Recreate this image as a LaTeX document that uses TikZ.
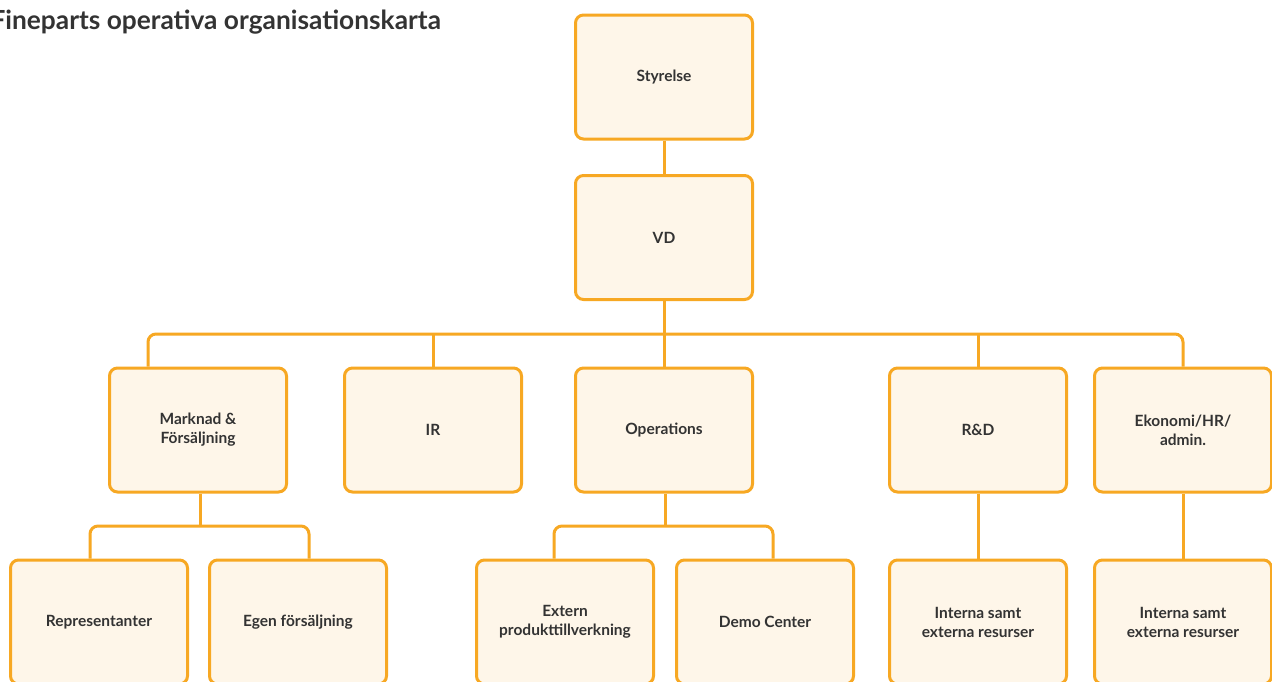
\documentclass[tikz,border=0pt]{standalone}
\usepackage{fontspec}
\setmainfont{Lato}
\definecolor{borderc}{HTML}{F7A823}
\definecolor{fillc}{HTML}{FEF6E9}
\definecolor{textc}{HTML}{333333}
\begin{document}
\begin{tikzpicture}[x=1pt,y=-1pt,
  box/.style={draw=borderc, fill=fillc, line width=3pt, rounded corners=8pt,
    minimum width=177pt, minimum height=124pt, inner sep=0pt,
    text=textc, font=\fontsize{15.5}{19}\selectfont\bfseries, align=center},
  conn/.style={draw=borderc, line width=3pt, rounded corners=8pt}]
\useasboundingbox (0,0) rectangle (1272,681);
\clip (0,0) rectangle (1272,681);
\fill[white] (0,0) rectangle (1272,681);
\node[anchor=base west, text=textc, font=\fontsize{26.3}{29}\selectfont\bfseries] (title) at (-13,29) {Fineparts operativa organisationskarta};
% top
\node[box] (sty) at (664,77) {Styrelse};
\node[box] (vd) at (664,237.5) {VD};
% row 2
\node[box] (mark) at (198,430) {Marknad \&\\Försäljning};
\node[box] (ir) at (433,430) {IR};
\node[box] (ops) at (664,430) {Operations};
\node[box] (rd) at (978,430) {R\&D};
\node[box] (eko) at (1183,430) {Ekonomi/HR/\\admin.};
% row 3
\node[box] (rep) at (99,622) {Representanter};
\node[box] (egen) at (298,622) {Egen försäljning};
\node[box] (ext) at (565,622) {Extern\\produkttillverkning};
\node[box] (demo) at (765,622) {Demo Center};
\node[box] (int1) at (978,622) {Interna samt\\externa resurser};
\node[box] (int2) at (1183,622) {Interna samt\\externa resurser};
% bus coordinates
\coordinate (busA) at (148,334);
\coordinate (busB) at (90,526);
\coordinate (busB2) at (309,526);
\coordinate (busC) at (554,526);
\coordinate (busC2) at (773,526);
% connectors
\draw[conn] (sty) -- (vd);
\draw[conn] (vd) -- (ops);
\draw[conn] (mark.north -| busA) |- (eko.north |- busA) -- (eko.north);
\draw[conn] (ir.north) -- (ir.north |- busA);
\draw[conn] (rd.north) -- (rd.north |- busA);
\draw[conn] (rep.north -| busB) |- (busB2) -- (egen.north -| busB2);
\draw[conn] ([xshift=2pt]mark.south) -- ([xshift=2pt]mark.south |- busB);
\draw[conn] (ext.north -| busC) |- (busC2) -- (demo.north -| busC2);
\draw[conn] ([xshift=1pt]ops.south) -- ([xshift=1pt]ops.south |- busC);
\draw[conn] (rd) -- (int1);
\draw[conn] (eko) -- (int2);
\end{tikzpicture}
\end{document}
